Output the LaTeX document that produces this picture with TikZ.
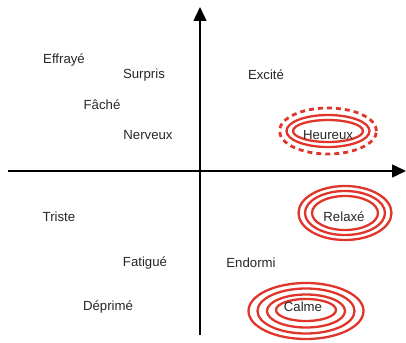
\documentclass[tikz,border=0pt]{standalone}
\usepackage{fontspec}
\setmainfont{Liberation Sans}
\usepackage{tikz}
\usetikzlibrary{arrows.meta, shapes.geometric}
\definecolor{emoRed}{HTML}{E0352B}
\definecolor{emoText}{HTML}{262626}
\tikzset{
  emo/.style={font=\fontsize{13.2}{15}\selectfont, text=emoText, inner sep=0pt},
  ring/.style={draw=emoRed, ellipse, line width=2.3pt, inner sep=0pt},
  dashring/.style={ring, line width=2.8pt, dash pattern=on 5pt off 4pt},
  axis/.style={-{Triangle[length=14pt, width=13pt]}, line width=1.5pt, black}
}
\begin{document}
\begin{tikzpicture}[x=1pt, y=-1pt]
  \useasboundingbox (0,0) rectangle (406,342);
  % axes
  \coordinate (xl) at (8,171);
  \coordinate (xr) at (406,171);
  \coordinate (yb) at (200,335);
  \coordinate (yt) at (200,7);
  \draw[axis] (xl) -- (xr);
  \draw[axis] (yb) -- (yt);
  % rings
  \node[dashring, minimum width=97pt, minimum height=46pt] (hapD) at (328,131) {};
  \node[ring, minimum width=83pt, minimum height=32pt] (hapB) at (328,131) {};
  \node[ring, minimum width=70pt, minimum height=22pt] (hapA) at (328,131) {};
  \node[ring, minimum width=93pt, minimum height=54pt] (relC) at (345,213) {};
  \node[ring, minimum width=80pt, minimum height=44pt] (relB) at (345,213) {};
  \node[ring, minimum width=66pt, minimum height=34pt] (relA) at (345,213) {};
  \node[ring, minimum width=115pt, minimum height=56pt] (calD) at (306,311) {};
  \node[ring, minimum width=97pt, minimum height=45pt] (calC) at (306,311) {};
  \node[ring, minimum width=78pt, minimum height=33pt] (calB) at (306,311) {};
  \node[ring, minimum width=60pt, minimum height=22pt] (calA) at (306,310) {};
  % labels
  \node[emo] (effraye) at (64,60) {Effrayé};
  \node[emo] (surpris) at (144,75) {Surpris};
  \node[emo] (excite) at (266,75) {Excité};
  \node[emo] (fache) at (102,105) {Fâché};
  \node[emo] (nerveux) at (148,135) {Nerveux};
  \node[emo] (heureux) at (328,135) {Heureux};
  \node[emo] (triste) at (59,217) {Triste};
  \node[emo] (relaxe) at (344,217) {Relaxé};
  \node[emo] (fatigue) at (145,263) {Fatigué};
  \node[emo] (endormi) at (251,263) {Endormi};
  \node[emo] (deprime) at (108,307) {Déprimé};
  \node[emo] (calme) at (303,307) {Calme};
\end{tikzpicture}
\end{document}
